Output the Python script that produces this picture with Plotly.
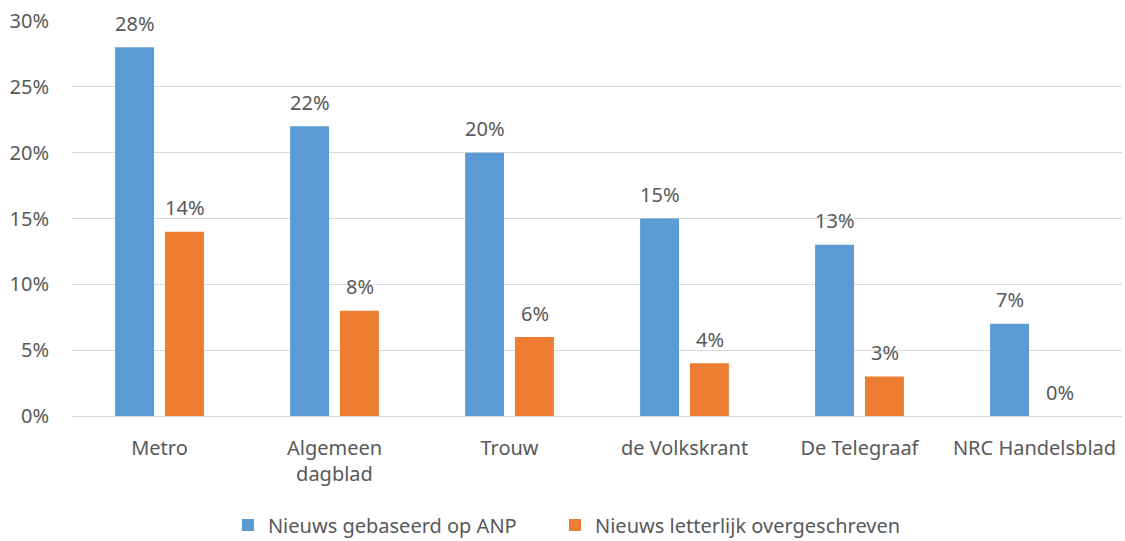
import plotly.graph_objects as go

categories = ["Metro", "Algemeen<br>dagblad", "Trouw", "de Volkskrant", "De Telegraaf", "NRC Handelsblad"]
anp = [28, 22, 20, 15, 13, 7]
letterlijk = [14, 8, 6, 4, 3, 0]
tick_vals = [0, 5, 10, 15, 20, 25, 30]
tick_text = ["0%", "5%", "10%", "15%", "20%", "25%", "30%"]

font_family = "Noto Sans, Open Sans, sans-serif"
txt_color = "#595959"
fs = 20

fig = go.Figure()
fig.add_trace(go.Bar(x=categories, y=anp, name="Nieuws gebaseerd op ANP",
                     marker_color="#5B9BD5", marker_line_width=0, legend="legend"))
fig.add_trace(go.Bar(x=categories, y=letterlijk, name="Nieuws letterlijk overgeschreven",
                     marker_color="#ED7D31", marker_line_width=0, legend="legend2"))

# data labels above each bar
for vals, shift in ((anp, -25), (letterlijk, 25)):
    for c, v in zip(categories, vals):
        fig.add_annotation(x=c, y=v, text=f"{v}%", showarrow=False,
                           xshift=shift, yshift=24, yanchor="middle",
                           font=dict(size=fs, color=txt_color, family=font_family))

leg_common = dict(orientation="h", xanchor="left", y=-0.276, yanchor="middle",
                  font=dict(size=fs, color=txt_color), itemwidth=30)

fig.update_layout(
    width=1125, height=541,
    margin=dict(l=72, r=3, t=21, b=125, autoexpand=False),
    paper_bgcolor="white", plot_bgcolor="white",
    barmode="group", bargap=0.43, bargroupgap=0.22,
    font=dict(family=font_family, size=fs, color=txt_color),
    showlegend=True,
    legend=dict(x=0.1485, **leg_common),
    legend2=dict(x=0.46, **leg_common),
)
fig.update_xaxes(showgrid=False, showline=False, ticks="", automargin=False,
                 tickfont=dict(size=fs, color=txt_color), ticklabelstandoff=18)
fig.update_yaxes(range=[0, 30], tickvals=tick_vals, ticktext=tick_text, automargin=False,
                 showgrid=True, gridcolor="#D9D9D9", gridwidth=1,
                 zeroline=True, zerolinecolor="#D9D9D9", zerolinewidth=1,
                 tickfont=dict(size=fs, color=txt_color), ticklabelstandoff=22)

fig.write_html("out.html", config={"displayModeBar": False},
               post_script="document.body.style.margin='0';")
